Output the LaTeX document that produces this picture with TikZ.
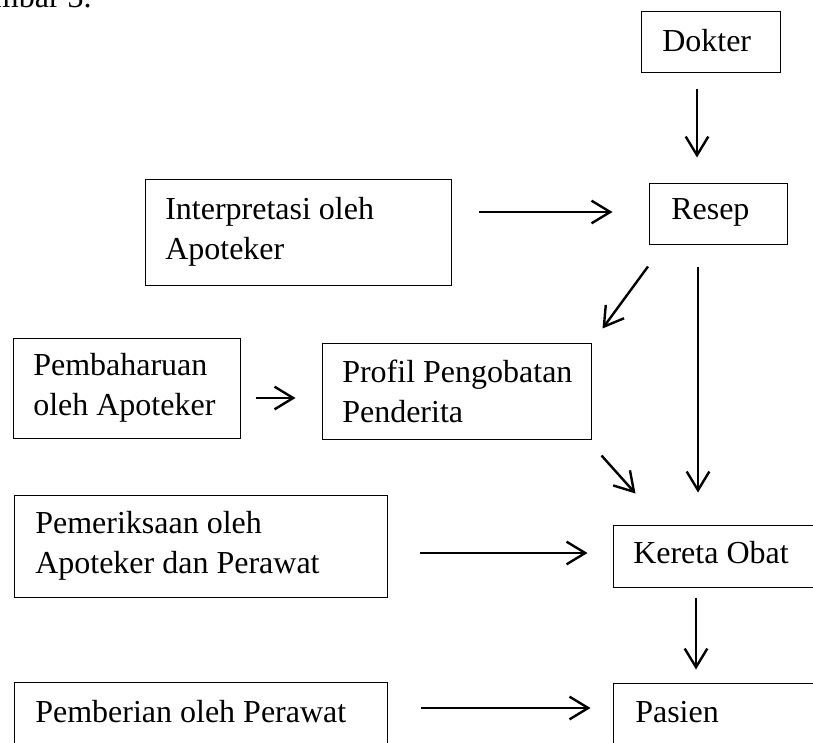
\documentclass[tikz,border=0pt]{standalone}
\usepackage{fontspec}
\setmainfont{Liberation Serif}
\usetikzlibrary{fit,arrows.meta}
\tikzset{
  box/.style={draw, line width=0.75pt, inner sep=0pt},
  txt/.style={inner sep=0pt, align=left, font=\fontsize{24pt}{30pt}\selectfont},
  arr/.style={line width=1.8pt, -{Straight Barb[length=14pt,width=17pt,line width=1.8pt]}}
}
\begin{document}
\begin{tikzpicture}[x=0.75pt,y=-0.75pt]
\useasboundingbox (0,0) rectangle (813,742);
\clip (0,0) rectangle (813,742);
% caption fragment (cut off at the top edge, as in the reference)
\node[txt, anchor=base east] (cap) at (92,8) {Gambar 3.};
% boxes
\node[box, fit={(641,12) (780,73)}] (dok) {};
\node[box, fit={(649,183) (787,244)}] (res) {};
\node[box, fit={(145,179) (451,285)}] (int) {};
\node[box, fit={(13,338) (240,438)}] (pemb) {};
\node[box, fit={(322,343) (591,439)}] (prof) {};
\node[box, fit={(14,495) (387,597)}] (pemr) {};
\node[box, fit={(613,525) (840,587)}] (ker) {};
\node[box, fit={(14,682) (387,760)}] (pembr) {};
\node[box, fit={(613,683) (840,760)}] (pas) {};
% texts
\node[txt, anchor=base west] (dokT) at (662,52) {Dokter};
\node[txt, anchor=base west] (resT) at (671,219) {Resep};
\node[txt, anchor=west] (intT) at (165,232) {Interpretasi oleh\\Apoteker};
\node[txt, anchor=west] (pembT) at (33,388) {Pembaharuan\\oleh Apoteker};
\node[txt, anchor=west] (profT) at (342,391) {Profil Pengobatan\\Penderita};
\node[txt, anchor=west] (pemrT) at (35,546) {Pemeriksaan oleh\\Apoteker dan Perawat};
\node[txt, anchor=base west] (kerT) at (633,563) {Kereta Obat};
\node[txt, anchor=base west] (pembrT) at (35,722) {Pemberian oleh Perawat};
\node[txt, anchor=base west] (pasT) at (635,722) {Pasien};
% arrows
\draw[arr] ([shift={(-13.5,15)}]dok.south) -- ([shift={(-21,-25)}]res.north);
\draw[arr] ([shift={(27,-20)}]int.east) -- ([shift={(-36,-1.5)}]res.west);
\draw[arr] ([shift={(-70,22)}]res.south) -- ([shift={(11,-14)}]prof.north east);
\draw[arr] ([shift={(-20,22)}]res.south) -- ([shift={(-28.5,-32)}]ker.north);
\draw[arr] ([shift={(15,10)}]pemb.east) -- ([shift={(-26,7)}]prof.west);
\draw[arr] ([shift={(10,16)}]prof.south east) -- ([shift={(23,-31)}]ker.north west);
\draw[arr] ([shift={(32,7)}]pemr.east) -- ([shift={(-25,-3)}]ker.west);
\draw[arr] ([shift={(-30.5,10)}]ker.south) -- ([shift={(-30.5,-13)}]pas.north);
\draw[arr] ([shift={(33,-13)}]pembr.east) -- ([shift={(-22,-13.5)}]pas.west);
\end{tikzpicture}
\end{document}
